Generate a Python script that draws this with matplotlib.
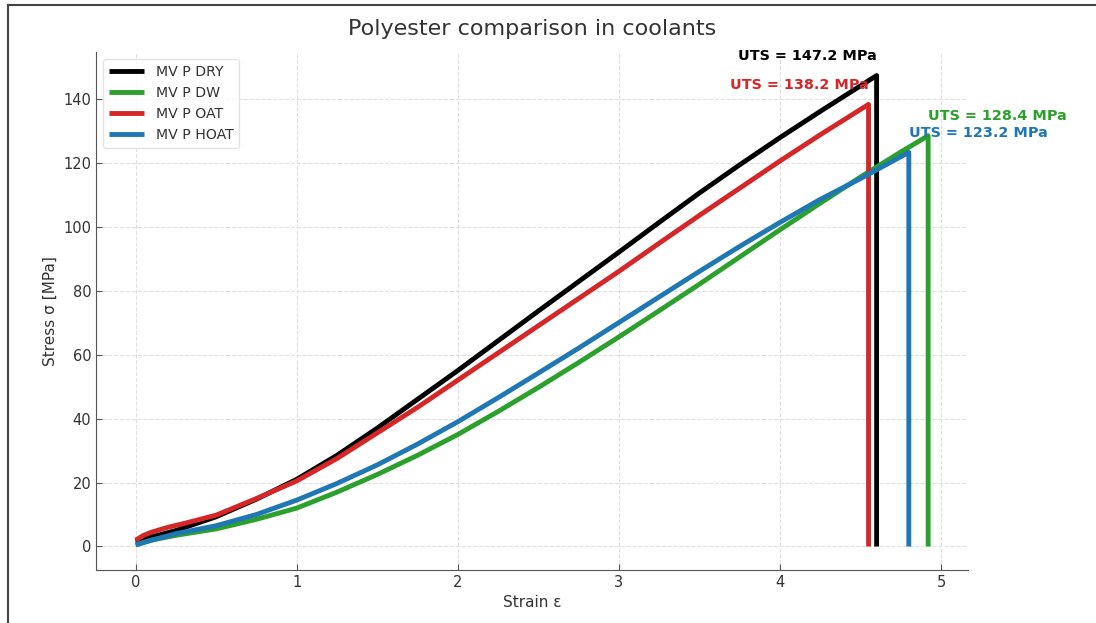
import matplotlib
matplotlib.use("Agg")
import matplotlib.pyplot as plt
from matplotlib.lines import Line2D

# Stress-strain curves (strain, stress in MPa)
dry_strain = [0, 0.1, 0.25, 0.5, 0.75, 1, 1.25, 1.5, 1.75, 2, 2.25, 2.5, 2.75, 3,
              3.25, 3.5, 3.75, 4, 4.25, 4.5, 4.6, 4.6]
dry_stress = [1.5, 3, 5, 9.3, 14.8, 21, 28.5, 37, 46, 55, 64.3, 73.6, 82.8, 92,
              101.3, 110.5, 119.3, 127.8, 136, 144, 147.2, 0]

dw_strain = [0, 0.1, 0.25, 0.5, 0.75, 1, 1.25, 1.5, 1.75, 2, 2.25, 2.5, 2.75, 3,
             3.25, 3.5, 3.75, 4, 4.25, 4.5, 4.75, 4.92, 4.92]
dw_stress = [0.5, 2, 3.5, 5.5, 8.5, 12, 17, 22.5, 28.5, 35, 42.2, 49.7, 57.5, 65.5,
             73.7, 82, 90.5, 99, 107.3, 115.5, 123.3, 128.4, 0]

oat_strain = [0, 0.05, 0.1, 0.2, 0.3, 0.5, 0.75, 1, 1.25, 1.5, 1.75, 2, 2.25, 2.5,
              2.75, 3, 3.25, 3.5, 3.75, 4, 4.25, 4.55, 4.55]
oat_stress = [2, 3.5, 4.5, 6, 7.2, 9.8, 15, 20.5, 27.5, 35.5, 43.5, 52, 60.5, 69,
              77.5, 86, 94.8, 103.5, 112, 120.5, 128.7, 138.2, 0]

hoat_strain = [0, 0.1, 0.25, 0.5, 0.75, 1, 1.25, 1.5, 1.75, 2, 2.25, 2.5, 2.75, 3,
               3.25, 3.5, 3.75, 4, 4.25, 4.5, 4.8, 4.8]
hoat_stress = [0.5, 2, 4, 6.5, 10, 14.5, 19.7, 25.5, 32, 39, 46.5, 54.2, 62, 70,
               78, 86, 93.8, 101.3, 108.5, 115, 123.2, 0]

labels = ["MV P DRY", "MV P DW", "MV P OAT", "MV P HOAT"]
colors = ["black", "#2ca02c", "#d62728", "#1f77b4"]
uts = [147.2, 128.4, 138.2, 123.2]
uts_strain = [4.6, 4.92, 4.55, 4.8]
uts_align = ["right", "left", "right", "left"]

series = [(dry_strain, dry_stress), (dw_strain, dw_stress),
          (oat_strain, oat_stress), (hoat_strain, hoat_stress)]

fig = plt.figure(figsize=(10.96, 6.23), dpi=100)
ax = fig.add_axes([0.0876, 0.085, 0.7954, 0.8315])

for (x, y), lab, c in zip(series, labels, colors):
    ax.plot(x, y, color=c, lw=3.5, label=lab, solid_joinstyle="round",
            solid_capstyle="butt")

for s, u, c, ha in zip(uts_strain, uts, colors, uts_align):
    ax.text(s, u + 4, f"UTS = {u} MPa", color=c, fontsize=10.4,
            fontweight="bold", ha=ha, va="bottom")

ax.set_title("Polyester comparison in coolants", fontsize=16, color="#333333", pad=12)
ax.set_xlabel("Strain ε", fontsize=11, color="#333333")
ax.set_ylabel("Stress σ [MPa]", fontsize=11, color="#333333")

ax.grid(True, linestyle="--", color="#e0e0e0", linewidth=0.8)
ax.set_axisbelow(True)
for side in ["top", "right"]:
    ax.spines[side].set_visible(False)
for side in ["left", "bottom"]:
    ax.spines[side].set_color("#555555")
ax.tick_params(direction="in", length=4, colors="#555555", labelcolor="#333333",
               labelsize=10.5)
ax.set_xticks([0, 1, 2, 3, 4, 5])
ax.set_yticks([0, 20, 40, 60, 80, 100, 120, 140])

leg = ax.legend(loc="upper left", fontsize=10.2, handlelength=2.5,
                frameon=True, edgecolor="#dddddd", labelcolor="#333333")

# border of the original screenshot
fig.add_artist(Line2D([0.0073, 0.0073], [0, 0.992], transform=fig.transFigure,
                      color="#444444", lw=1.5))
fig.add_artist(Line2D([0.0073, 1], [0.992, 0.992], transform=fig.transFigure,
                      color="#444444", lw=1.5))

fig.savefig("out.png", dpi=100)
